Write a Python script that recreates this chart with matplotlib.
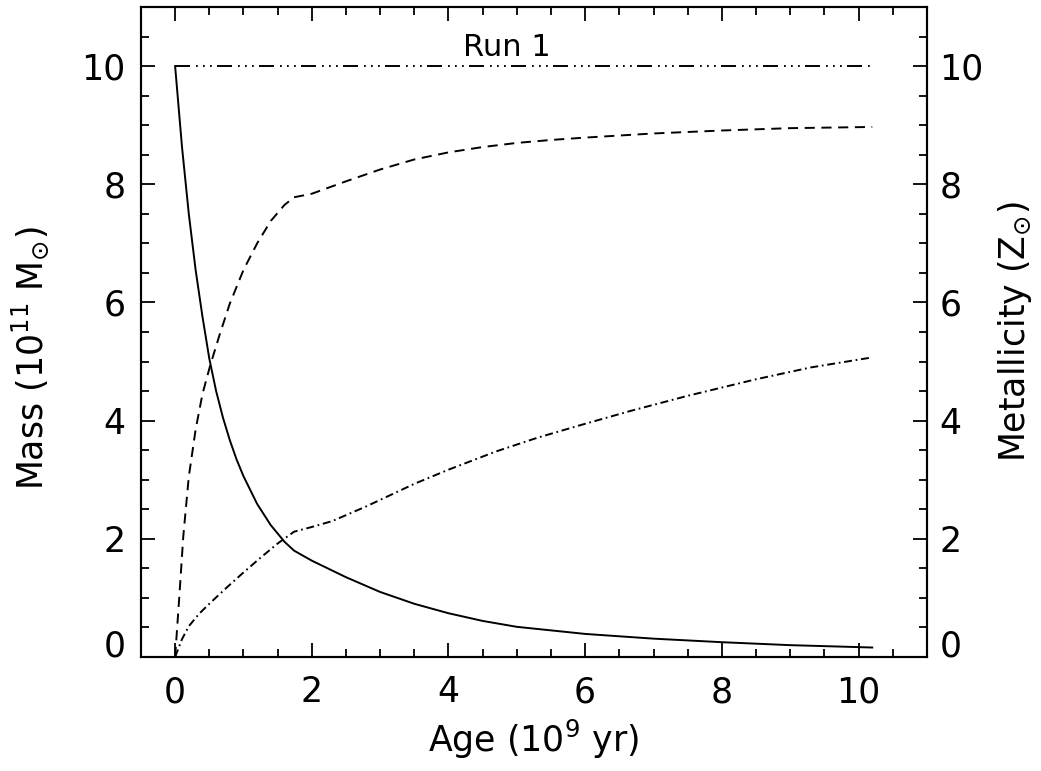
import matplotlib
matplotlib.use("Agg")
import matplotlib.pyplot as plt

plt.rcParams['font.family'] = ['DejaVu Sans']
plt.rcParams['mathtext.default'] = 'regular'

# values
total_age = [0.0, 10.2]
total_mass = [10.0, 10.0]

gas_age = [0.0, 0.1, 0.2, 0.3, 0.4, 0.5, 0.6, 0.7, 0.8, 0.9, 1.0, 1.2, 1.4,
           1.6, 1.74, 2.0, 2.5, 3.0, 3.5, 4.0, 4.5, 5.0, 6.0, 7.0, 8.0, 9.0, 10.2]
gas_mass = [10.0, 8.64, 7.50, 6.55, 5.76, 5.05, 4.50, 4.05, 3.67, 3.34, 3.06,
            2.59, 2.23, 1.95, 1.80, 1.63, 1.35, 1.10, 0.90, 0.74, 0.61, 0.51,
            0.39, 0.31, 0.25, 0.20, 0.16]

star_age = [0.0, 0.06, 0.12, 0.2, 0.3, 0.4, 0.51, 0.65, 0.8, 1.0, 1.2, 1.4,
            1.6, 1.74, 2.0, 2.5, 3.0, 3.5, 4.0, 4.5, 5.0, 5.5, 6.0, 7.0, 8.0,
            9.0, 10.2]
star_mass = [0.0, 1.0, 2.05, 3.05, 3.85, 4.45, 4.92, 5.45, 5.98, 6.55, 7.0,
             7.38, 7.65, 7.78, 7.84, 8.05, 8.25, 8.42, 8.54, 8.63, 8.70, 8.75,
             8.79, 8.86, 8.91, 8.95, 8.97]

met_age = [0.0, 0.1, 0.2, 0.35, 0.5, 0.75, 1.0, 1.25, 1.5, 1.74, 2.0, 2.3,
           2.8, 3.5, 4.0, 4.7, 5.3, 5.92, 6.65, 7.5, 8.5, 9.3, 10.2]
metallicity = [0.0, 0.30, 0.52, 0.73, 0.90, 1.17, 1.43, 1.68, 1.92, 2.12,
               2.20, 2.30, 2.55, 2.93, 3.17, 3.48, 3.71, 3.92, 4.16, 4.42,
               4.70, 4.90, 5.07]

fs = 25
fig = plt.figure(figsize=(10.41, 7.71), dpi=100)
ax = fig.add_axes([0.1354, 0.1479, 0.755, 0.843])

lw = 1.4
ax.plot(total_age, total_mass, color='k', lw=lw,
        dashes=(7.7, 3.1, 0.9, 2.7, 0.9, 2.7, 0.9, 2.7))
ax.plot(gas_age, gas_mass, color='k', lw=lw)
ax.plot(star_age, star_mass, color='k', lw=lw, dashes=(5.2, 3.4))
ax.plot(met_age, metallicity, color='k', lw=lw, dashes=(4.1, 1.9, 0.9, 1.9))

ax.set_xlim(-0.5, 11)
ax.set_ylim(0, 11)
ax.set_xticks([0, 2, 4, 6, 8, 10])
ax.set_xticks([x * 0.5 for x in range(0, 22)], minor=True)
ax.set_yticks([0, 2, 4, 6, 8, 10])
ax.set_yticks([y * 0.5 for y in range(0, 23)], minor=True)

ax2 = ax.twinx()
ax2.set_ylim(0, 11)
ax2.set_yticks([0, 2, 4, 6, 8, 10])
ax2.set_yticks([y * 0.5 for y in range(0, 23)], minor=True)

for a in (ax, ax2):
    for s in a.spines.values():
        s.set_linewidth(1.5)
ax.tick_params(which='both', direction='in', top=True, width=1.3, labelsize=fs)
ax.tick_params(which='major', length=10)
ax.tick_params(which='minor', length=5.5)
ax.tick_params(axis='x', which='major', pad=13)
ax.tick_params(axis='y', which='major', pad=11)
ax2.tick_params(which='both', direction='in', width=1.3, labelsize=fs)
ax2.tick_params(which='major', length=10, pad=9)
ax2.tick_params(which='minor', length=5.5)

# the 0 labels on the y axes sit a little above the tick, as in the original
ax.yaxis.get_major_ticks()[0].label1.set_va('baseline')
ax2.yaxis.get_major_ticks()[0].label2.set_va('baseline')

ax.set_xlabel('Age (10$^{9}$ yr)', fontsize=fs, labelpad=6)
ax.set_ylabel('Mass (10$^{11}$ M$_{\\odot}$)', fontsize=fs)
ax.yaxis.set_label_coords(-0.1145, 0.46)
ax2.set_ylabel('Metallicity (Z$_{\\odot}$)', fontsize=fs)
ax2.yaxis.set_label_coords(1.088, 0.5)

ax.text(4.85, 10.17, 'Run 1', fontsize=22, ha='center', va='baseline')

fig.savefig('out.png', dpi=100)
